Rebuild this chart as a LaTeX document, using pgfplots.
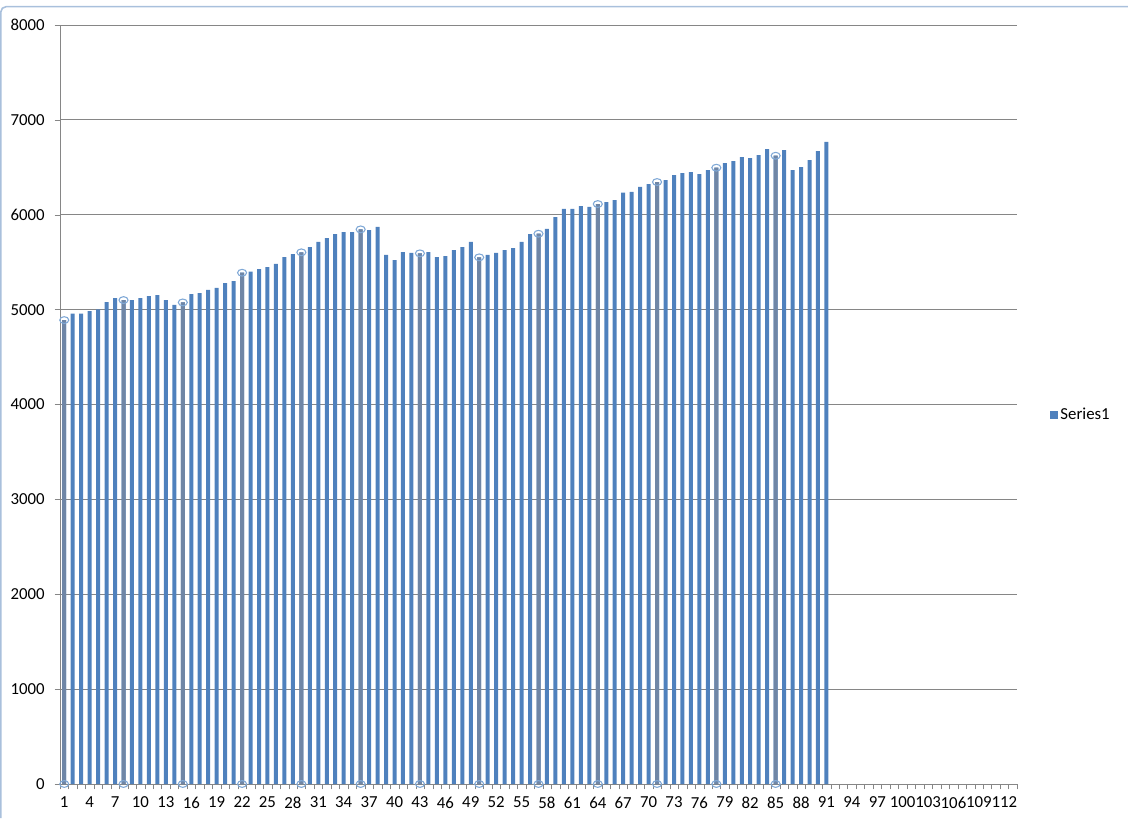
\documentclass[border=0pt]{standalone}
\usepackage{pgfplots}
\pgfplotsset{compat=1.18}
\usepackage{pgfplotstable}
\usepackage{fontspec}
\setmainfont{Carlito}
\definecolor{barblue}{HTML}{4F81BD}
\definecolor{selgrey}{HTML}{6F86A6}
\definecolor{handle}{HTML}{7FA8D6}
\definecolor{gridgrey}{HTML}{868686}
\definecolor{frameblue}{HTML}{A9C0DC}

\pgfplotstableread{
x y
1 4890
2 4957
3 4957
4 4985
5 5003
6 5080
7 5122
8 5101
9 5101
10 5122
11 5143
12 5154
13 5101
14 5049
15 5076
16 5164
17 5175
18 5207
19 5228
20 5280
21 5301
22 5389
23 5400
24 5428
25 5449
26 5481
27 5554
28 5586
29 5604
30 5660
31 5713
32 5755
33 5797
34 5818
35 5818
36 5846
37 5839
38 5871
39 5576
40 5523
41 5607
42 5597
43 5593
44 5607
45 5554
46 5565
47 5628
48 5660
49 5713
50 5551
51 5576
52 5597
53 5628
54 5649
55 5713
56 5797
57 5800
58 5850
59 5976
60 6061
61 6061
62 6092
63 6082
64 6113
65 6134
66 6155
67 6233
68 6240
69 6293
70 6324
71 6345
72 6366
73 6419
74 6440
75 6450
76 6429
77 6471
78 6496
79 6545
80 6566
81 6608
82 6598
83 6629
84 6693
85 6622
86 6682
87 6471
88 6503
89 6577
90 6672
91 6767
}\series

% selected points (Excel selection handles)
\pgfplotstableread{
x y z
1 4890 0
8 5101 0
15 5076 0
22 5389 0
29 5604 0
36 5846 0
43 5593 0
50 5551 0
57 5800 0
64 6113 0
71 6345 0
78 6496 0
85 6622 0
}\selected

\begin{document}
\begin{tikzpicture}
\path[use as bounding box] (0,0) rectangle (846pt,613.5pt);
\draw[frameblue, line width=1.2pt, rounded corners=4pt] (0.6pt,0) -- (0.6pt,608.5pt) -- (846pt,608.5pt);
\begin{axis}[
    at={(45pt,25.5pt)}, anchor=south west,
    scale only axis,
    width=717.75pt, height=569.25pt,
    clip=false,
    ybar,
    bar width=3pt,
    xmin=0.5, xmax=113.5,
    ymin=0, ymax=8000,
    axis x line*=bottom, axis y line*=left,
    axis line style={gridgrey},
    xtick={1,4,...,112},
    major x tick style={draw=none},
    minor xtick={0.5,1.5,...,113.5},
    minor x tick style={gridgrey},
    minor tick length=4pt,
    ytick={0,1000,...,8000},
    y tick style={gridgrey},
    major tick length=4pt,
    tick align=outside,
    ymajorgrids,
    grid style={gridgrey, line width=0.6pt},
    tick label style={font=\fontsize{12.6}{14}\selectfont},
    /pgf/number format/assume math mode=true,
    scaled y ticks=false,
    yticklabel style={/pgf/number format/set thousands separator={}, xshift=-4pt},
    xticklabel style={yshift=-2pt},
    legend style={at={(1.034,0.486)}, anchor=west, draw=none,
        font=\fontsize{12.6}{14}\selectfont, inner sep=0pt},
    legend image code/.code={\fill[barblue] (0pt,-3pt) rectangle (6pt,3pt);},
]
\addplot[fill=barblue, draw=none, bar shift=0pt] table[x=x, y=y] {\series};
\addlegendentry{Series1}
\addplot[fill=selgrey, draw=none, bar shift=0pt, forget plot] table[x=x, y=y] {\selected};
\addplot[only marks, mark=o, mark size=3.4pt, mark options={handle, line width=0.8pt, yscale=0.75}, forget plot] table[x=x, y=y] {\selected};
\addplot[only marks, mark=o, mark size=3.4pt, mark options={handle, line width=0.8pt, yscale=0.75}, forget plot] table[x=x, y=z] {\selected};
\end{axis}
\end{tikzpicture}
\end{document}
